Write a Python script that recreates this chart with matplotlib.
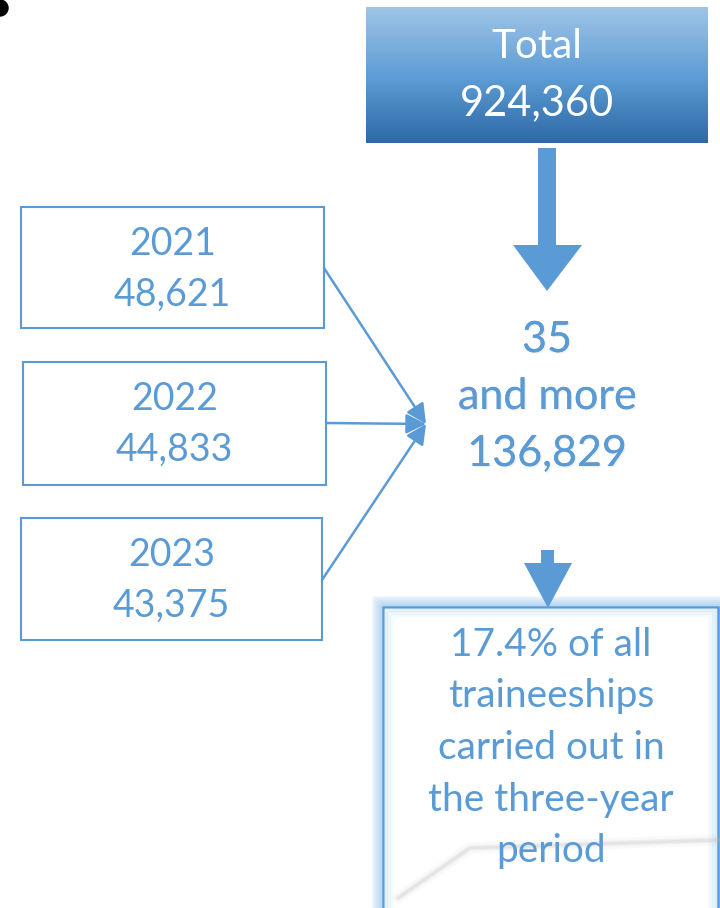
import numpy as np
import matplotlib
matplotlib.use("Agg")
import matplotlib.pyplot as plt
from matplotlib.patches import Rectangle, Circle, FancyArrowPatch, Polygon
import matplotlib.patheffects as pe

# ------------------------
# Data
# ------------------------
years = ["2021", "2022", "2023"]
counts = [48621, 44833, 43375]
total = 924360
age_group = "35\nand more"
age_count = 136829
share_pct = 17.4
share_text = "of all\ntraineeships\ncarried out in\nthe three-year\nperiod"

BLUE = "#5b9bd5"
plt.rcParams["font.family"] = ["Lato", "DejaVu Sans"]

# ------------------------
# Canvas in pixel coords
# ------------------------
fig = plt.figure(figsize=(7.2, 9.08), dpi=100)
ax = fig.add_axes([0, 0, 1, 1])
ax.set_xlim(0, 720)
ax.set_ylim(908, 0)
ax.axis("off")

# black dot in the corner
ax.add_patch(Circle((0, 8), 8, color="black"))

# total box with vertical gradient
grad = np.linspace(0, 1, 256).reshape(-1, 1)
cmap = matplotlib.colors.LinearSegmentedColormap.from_list("g", ["#9fc4e7", "#5f9ed6", "#2d69a6"])
ax.imshow(grad, cmap=cmap, extent=(366, 708, 143, 7), aspect="auto", zorder=1)
ax.text(537, 47, "Total", color="white", fontsize=29, ha="center", va="center", zorder=2)
ax.text(537, 103, f"{total:,}", color="white", fontsize=30, ha="center", va="center", zorder=2)

# big down arrow
ax.add_patch(Polygon([(538, 148), (556, 148), (556, 245), (582, 245), (547, 291),
                      (513, 245), (538, 245)], closed=True, color=BLUE, lw=0))

# middle text with soft shadow
shadow = [pe.withSimplePatchShadow(offset=(1, -1), shadow_rgbFace="#cccccc", alpha=0.3), pe.Normal()]
middle = age_group.split("\n") + [f"{age_count:,}"]
for k, line in enumerate(middle):
    ax.text(547, 340 + k * 57, line, color=BLUE, fontsize=31, ha="center", va="center",
            path_effects=shadow)

# year boxes
boxes = [(21, 207, 303, 121), (23, 362, 303, 123), (21, 518, 301, 122)]
starts = [(324, 268), (326, 423), (322, 580)]
for (x, y, w, h), yr, c, st in zip(boxes, years, counts, starts):
    ax.add_patch(Rectangle((x, y), w, h, fill=False, ec=BLUE, lw=1.5))
    ax.text(x + w / 2, y + 37, yr, color=BLUE, fontsize=27, ha="center", va="center")
    ax.text(x + w / 2, y + 88, f"{c:,}", color=BLUE, fontsize=27, ha="center", va="center")
    ax.add_patch(FancyArrowPatch(st, (426, 424), arrowstyle="-|>", mutation_scale=30,
                                 color=BLUE, lw=1.8, shrinkA=0, shrinkB=0))

# small down arrow
ax.add_patch(Polygon([(541, 550), (554, 550), (554, 563), (572, 563), (548, 608),
                      (524, 563), (541, 563)], closed=True, color=BLUE, lw=0, zorder=3))

# glowing share box
for i in range(10, 0, -1):
    ax.add_patch(Rectangle((383 - i, 607 - i), 335 + 2 * i, 320 + 2 * i, fill=False,
                           ec="#9cc8f0", lw=1.2, alpha=0.12 + 0.05 * (10 - i)))
ax.add_patch(Rectangle((383, 607), 335, 320, fc="white", ec=BLUE, lw=1.8, zorder=2))
for i in range(6):
    ax.add_patch(Rectangle((383 + 2 + i * 1.5, 607 + 2 + i * 1.5), 335 - 4 - 3 * i, 320, fill=False,
                           ec="#bcdcf7", lw=1.2, alpha=0.5 - 0.08 * i, zorder=2))
for lw, a in [(8, 0.08), (4, 0.15), (2, 0.2)]:
    ax.plot([398, 470, 718], [898, 848, 840], color="#bbbbbb", lw=lw, alpha=a, zorder=2,
            solid_capstyle="round")

lines = [f"{share_pct}% " + share_text.split("\n")[0]] + share_text.split("\n")[1:]
for k, line in enumerate(lines):
    ax.text(551, 645 + k * 51.5, line, color=BLUE, fontsize=28, ha="center", va="center", zorder=3)

fig.savefig("out.png", dpi=100)
